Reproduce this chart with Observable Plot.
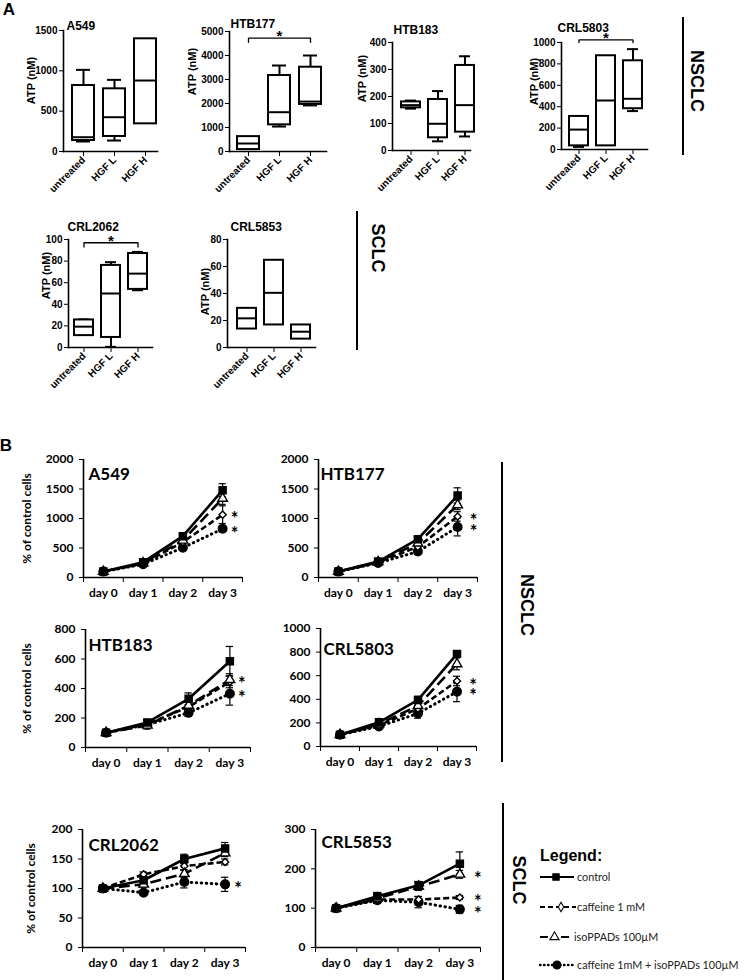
<!DOCTYPE html>
<html><head><meta charset="utf-8">
<script src="https://cdn.jsdelivr.net/npm/d3@7"></script>
<script src="https://cdn.jsdelivr.net/npm/@observablehq/plot@0.6"></script>
<style>
body{margin:0;background:#fff;}
#fig{position:relative;width:746px;height:980px;overflow:hidden;background:#fff;}
.vline{position:absolute;width:2px;background:#000;}
.lab{position:absolute;white-space:nowrap;line-height:1;color:#000;}
</style></head><body><div id="fig"></div>
<script>
// ---------- DATA: panel A (ATP box plots) ----------
const boxCategories = ["untreated", "HGF L", "HGF H"];
const boxLines = ["A549", "HTB177", "HTB183", "CRL5803", "CRL2062", "CRL5853"];
const boxMin    = [[124,136,343],[80,1040,1920],[155,34,52],[24,34,359],[11,0.6,53],[13.7,16.7,6.2]];
const boxQ1     = [[136,186,343],[80,1111,1960],[158,47,68],[34,34,381],[11,9.3,53.8],[13.7,16.7,6.2]];
const boxMedian = [[177,425,880],[333,1637,2080],[168,99,168],[186,458,474],[19.3,50,68.4],[21.6,40.5,11.7]];
const boxQ3     = [[818,777,1397],[620,3167,3512],[180,189,315],[309,876,829],[25.5,76,87],[29,64.6,16.7]];
const boxMax    = [[1012,888,1397],[620,3583,4000],[185,220,349],[309,876,938],[26,79,88.5],[29,64.6,16.7]];
const boxYMax   = [1500, 5000, 400, 1000, 100, 80];
const boxYTicks = [[0,500,1000,1500],[0,1000,2000,3000,4000,5000],[0,100,200,300,400],[0,200,400,600,800,1000],[0,20,40,60,80,100],[0,20,40,60,80]];
const sigLow    = [null, 4550, null, 1000, 93, null];
const sigHigh   = [null, 4720, null, 1024, 97, null];

// ---------- DATA: panel B (growth curves) ----------
const days = ["day 0", "day 1", "day 2", "day 3"];
const seriesNames = ["control", "caffeine 1 mM", "isoPPADs 100\u00b5M", "caffeine 1mM + isoPPADs 100\u00b5M"];
const growthLines = ["A549", "HTB177", "HTB183", "CRL5803", "CRL2062", "CRL5853"];
const growthMeans = [
  [[100,260,700,1480],[100,235,600,1065],[100,245,630,1340],[100,225,505,825]],
  [[100,270,650,1390],[100,255,520,1035],[100,265,580,1230],[100,245,440,855]],
  [[100,170,330,585],[100,160,275,445],[100,150,285,460],[100,155,235,365]],
  [[100,205,395,785],[100,180,320,555],[100,190,345,700],[100,170,280,465]],
  [[100,114,150,168],[100,124,138,145],[100,107,125,160],[100,93,111,107]],
  [[100,130,158,213],[100,122,122,127],[100,125,155,186],[100,120,115,97]]
];
const growthErrors = [
  [[15,25,40,110],[10,20,40,150],[10,20,40,100],[10,20,30,50]],
  [[15,25,40,130],[10,20,40,80],[10,20,40,80],[10,20,30,150]],
  [[10,20,40,100],[10,20,30,40],[10,25,30,40],[10,20,25,78]],
  [[10,15,30,20],[8,15,30,40],[8,15,30,50],[8,15,40,85]],
  [[3,4,8,10],[3,4,6,5],[3,5,6,6],[3,3,10,12]],
  [[4,10,10,30],[4,8,8,5],[4,8,10,10],[4,8,14,10]]
];
const growthStars = [[0,1,0,1],[0,1,0,1],[0,0,1,1],[0,1,0,1],[0,0,0,1],[0,1,1,1]];
const growthYMax = [2000, 2000, 800, 1000, 200, 300];
const growthYTicks = [[0,500,1000,1500,2000],[0,500,1000,1500,2000],[0,200,400,600,800],[0,200,400,600,800,1000],[0,50,100,150,200],[0,100,200,300]];

// ---------- LAYOUT ----------
const W = 746, H = 980;
const fontA = "'Liberation Sans', Arial, sans-serif";
const fontB = "Lato, 'Open Sans', sans-serif";
const boxLayout = [
  {left:63, right:157, top:30, bottom:151, c0:82, step:31.5, titleX:66, titleY:21, labelX:27, labelY:80},
  {left:229, right:326, top:31, bottom:151, c0:248, step:31, titleX:230, titleY:19, labelX:188, labelY:71},
  {left:392, right:470, top:42, bottom:150, c0:410, step:27, titleX:393, titleY:25, labelX:358, labelY:78},
  {left:561, right:647, top:42, bottom:149, c0:578, step:27.5, titleX:557, titleY:23, labelX:530, labelY:81},
  {left:68, right:152, top:239, bottom:347, c0:83, step:27.5, titleX:67, titleY:222, labelX:42, labelY:275},
  {left:227, right:315, top:239, bottom:347, c0:246, step:27.5, titleX:230, titleY:222, labelX:201, labelY:291}
];
const growthLayout = [
  {left:83, right:242, top:459, bottom:577, titleDx:5, titleDy:8, labelDx:-56, starDx:12},
  {left:318, right:477, top:459, bottom:577, titleDx:2, titleDy:8, labelDx:null, starDx:16},
  {left:85, right:250, top:629, bottom:747, titleDx:3, titleDy:9, labelDx:-58, starDx:12},
  {left:320, right:476, top:628, bottom:746, titleDx:3, titleDy:14, labelDx:null, starDx:16},
  {left:82, right:245, top:829, bottom:947, titleDx:6, titleDy:9, labelDx:-51, starDx:13},
  {left:315, right:480, top:829, bottom:947, titleDx:6, titleDy:6, labelDx:null, starDx:18}
];
const seriesStyle = [
  {dash: undefined, symbol: "square", fill: "black", r: 4},
  {dash: "6,3", symbol: "diamond2", fill: "white", r: 3.2},
  {dash: "11,5", symbol: "triangle2", fill: "white", r: 4.6},
  {dash: "0.5,4.5", symbol: "circle", fill: "black", r: 4.3}
];

const fig = document.getElementById("fig");
const svgStyle = fam => `position:absolute;left:0;top:0;background:transparent;overflow:visible;font-family:${fam};font-weight:bold;font-size:10px;`;

function boxPanel(i) {
  const L = boxLayout[i];
  const rows = boxCategories.map((cat, j) => ({cat, min: boxMin[i][j], q1: boxQ1[i][j], med: boxMedian[i][j], q3: boxQ3[i][j], max: boxMax[i][j]}));
  const upper = rows.filter(d => d.max > d.q3), lower = rows.filter(d => d.min < d.q1);
  const marks = [
    Plot.ruleX(upper, {x: "cat", y1: "q3", y2: "max", strokeWidth: 2}),
    Plot.ruleX(lower, {x: "cat", y1: "min", y2: "q1", strokeWidth: 2}),
    Plot.tickY(upper, {x: "cat", y: "max", strokeWidth: 2, insetLeft: 4, insetRight: 4}),
    Plot.tickY(lower, {x: "cat", y: "min", strokeWidth: 2, insetLeft: 4, insetRight: 4}),
    Plot.barY(rows, {x: "cat", y1: "q1", y2: "q3", fill: "white", stroke: "black", strokeWidth: 2}),
    Plot.tickY(rows, {x: "cat", y: "med", strokeWidth: 2}),
    Plot.frame({anchor: "left", strokeWidth: 1.6}),
    Plot.frame({anchor: "bottom", strokeWidth: 1.6}),
    Plot.axisY({ticks: boxYTicks[i], tickSize: 4, tickPadding: 2, tickFormat: "d", label: null, fontSize: 10}),
    Plot.axisX({tickRotate: -45, tickSize: 5, tickPadding: 2, label: null, fontSize: 10}),
    Plot.text([boxLines[i]], {frameAnchor: "top-left", textAnchor: "start", dx: L.titleX - L.left, dy: L.titleY - L.top, fontSize: 12}),
    Plot.text(["ATP (nM)"], {frameAnchor: "top-left", textAnchor: "middle", rotate: -90, dx: L.labelX - L.left, dy: L.labelY - L.top, fontSize: 11})
  ];
  if (sigLow[i] != null) {
    const a = boxCategories[0], b = boxCategories[2];
    const br = [{cat: a, y: sigLow[i]}, {cat: a, y: sigHigh[i]}, {cat: b, y: sigHigh[i]}, {cat: b, y: sigLow[i]}];
    marks.push(Plot.line(br, {x: "cat", y: "y", strokeWidth: 1.3}));
    marks.push(Plot.text([{cat: boxCategories[1], y: sigHigh[i]}], {x: "cat", y: "y", text: () => "*", dy: -2, fontSize: 15}));
  }
  return Plot.plot({
    width: W, height: H,
    marginLeft: L.left, marginRight: W - L.right, marginTop: L.top, marginBottom: H - L.bottom,
    x: {type: "band", domain: boxCategories, range: [L.c0 - L.step / 2, L.c0 + 2.5 * L.step], paddingInner: 0.3, paddingOuter: 0.15, label: null},
    y: {domain: [0, boxYMax[i]], label: null},
    style: svgStyle(fontA),
    marks
  });
}

function growthPanel(i) {
  const L = growthLayout[i];
  const rows = seriesNames.flatMap((s, k) => days.map((d, j) => ({k, day: j + 0.5, v: growthMeans[i][k][j], e: growthErrors[i][k][j]})));
  const order = [3, 1, 2, 0];
  const marks = [];
  for (const k of order) {
    marks.push(Plot.line(rows.filter(d => d.k === k), {x: "day", y: "v", stroke: "black", strokeWidth: k === 3 ? 3 : 2.6, strokeDasharray: seriesStyle[k].dash, strokeLinecap: k === 3 ? "round" : "butt"}));
  }
  marks.push(Plot.ruleX(rows, {x: "day", y1: d => d.v - d.e, y2: d => d.v + d.e, strokeWidth: 1.2}));
  marks.push(Plot.ruleY(rows, {y: d => d.v + d.e, x1: d => d.day - 0.09, x2: d => d.day + 0.09, strokeWidth: 1.2}));
  marks.push(Plot.ruleY(rows, {y: d => d.v - d.e, x1: d => d.day - 0.09, x2: d => d.day + 0.09, strokeWidth: 1.2}));
  for (const k of order) {
    const s = seriesStyle[k];
    marks.push(Plot.dot(rows.filter(d => d.k === k), {x: "day", y: "v", symbol: s.symbol, r: s.r, fill: s.fill, stroke: "black", strokeWidth: 1.4}));
  }
  marks.push(Plot.text(rows.filter(d => d.day === days.length - 0.5 && growthStars[i][d.k]), {x: "day", y: "v", text: () => "*", dx: L.starDx, dy: 5, fontSize: 18}));
  marks.push(Plot.ruleX([0], {strokeWidth: 1.6}));
  marks.push(Plot.ruleY([0], {strokeWidth: 1.6}));
  marks.push(Plot.axisY({ticks: growthYTicks[i], tickSize: 4, tickPadding: 6, tickFormat: "d", label: null, fontSize: 12}));
  marks.push(Plot.axisX({ticks: d3.range(days.length + 1), tickSize: 5, tickFormat: () => "", label: null}));
  marks.push(Plot.axisX({ticks: days.map((d, j) => j + 0.5), tickSize: 0, tickPadding: 11, tickFormat: v => days[Math.floor(v)], label: null, fontSize: 12}));
  marks.push(Plot.text([growthLines[i]], {frameAnchor: "top-left", textAnchor: "start", dx: L.titleDx, dy: L.titleDy, fontSize: 17}));
  if (L.labelDx != null) {
    marks.push(Plot.text(["% of control cells"], {frameAnchor: "left", textAnchor: "middle", rotate: -90, dx: L.labelDx, fontSize: 12}));
  }
  return Plot.plot({
    width: W, height: H,
    marginLeft: L.left, marginRight: W - L.right, marginTop: L.top, marginBottom: H - L.bottom,
    x: {domain: [0, days.length], label: null},
    y: {domain: [0, growthYMax[i]], label: null},
    style: svgStyle(fontB),
    marks
  });
}

boxLines.forEach((_, i) => fig.appendChild(boxPanel(i)));
growthLines.forEach((_, i) => fig.appendChild(growthPanel(i)));

// ---------- legend ----------
const legendY = [877, 907, 937, 965];
const legendGlyph = [
  {x1: 540, x2: 574, dash: null, mx: 556, sym: d3.symbolSquare, size: 40, fill: "black"},
  {x1: 540, x2: 576, dash: "5,3", mx: 561, sym: d3.symbolDiamond, size: 26, fill: "white"},
  {x1: 540, x2: 569, dash: "8,13", mx: 554.5, sym: d3.symbolTriangle, size: 36, fill: "white"},
  {x1: 540, x2: 573, dash: "0.5,3.5", mx: 557, sym: d3.symbolCircle, size: 50, fill: "black"}
];
const leg = d3.create("svg").attr("width", W).attr("height", H).attr("style", "position:absolute;left:0;top:0;overflow:visible");
leg.append("text").attr("x", 540).attr("y", 861).attr("font-family", fontA).attr("font-weight", "bold").attr("font-size", 16).text("Legend:");
seriesNames.forEach((s, k) => {
  const g = legendGlyph[k], y = legendY[k];
  leg.append("line").attr("x1", g.x1).attr("x2", g.x2).attr("y1", y).attr("y2", y)
    .attr("stroke", "black").attr("stroke-width", k === 3 ? 2.4 : 2).attr("stroke-dasharray", g.dash).attr("stroke-linecap", k === 3 ? "round" : "butt");
  leg.append("path").attr("d", d3.symbol(g.sym, g.size)()).attr("transform", `translate(${g.mx},${y})`)
    .attr("fill", g.fill).attr("stroke", "black").attr("stroke-width", 1.1);
  leg.append("text").attr("x", k === 2 ? 574 : 577).attr("y", y).attr("dy", "0.35em")
    .attr("font-family", fontB).attr("font-size", 10.8).attr("fill", "#222").text(s);
});
fig.appendChild(leg.node());

// ---------- annotations: panel letters, group bars ----------
function addLabel(text, cx, cy, size, rot, fam) {
  const d = document.createElement("div");
  d.className = "lab";
  d.textContent = text;
  Object.assign(d.style, {left: cx + "px", top: cy + "px", transform: `translate(-50%,-50%) rotate(${rot}deg)`, font: `bold ${size}px ${fam}`});
  fig.appendChild(d);
}
function addBar(x, y1, y2) {
  const d = document.createElement("div");
  d.className = "vline";
  Object.assign(d.style, {left: (x - 1) + "px", top: y1 + "px", height: (y2 - y1) + "px"});
  fig.appendChild(d);
}
addLabel("A", 9, 10, 17, 0, fontA);
addLabel("B", 6, 446, 17, 0, fontA);
addBar(683, 17, 155); addLabel("NSCLC", 696, 81, 18, 90, fontA);
addBar(357, 211, 350); addLabel("SCLC", 377, 248, 18, 90, fontA);
addBar(502, 462, 762); addLabel("NSCLC", 526, 605, 18, 90, fontA);
addBar(503, 803, 980); addLabel("SCLC", 518, 880, 18, 90, fontA);
</script></body></html>
